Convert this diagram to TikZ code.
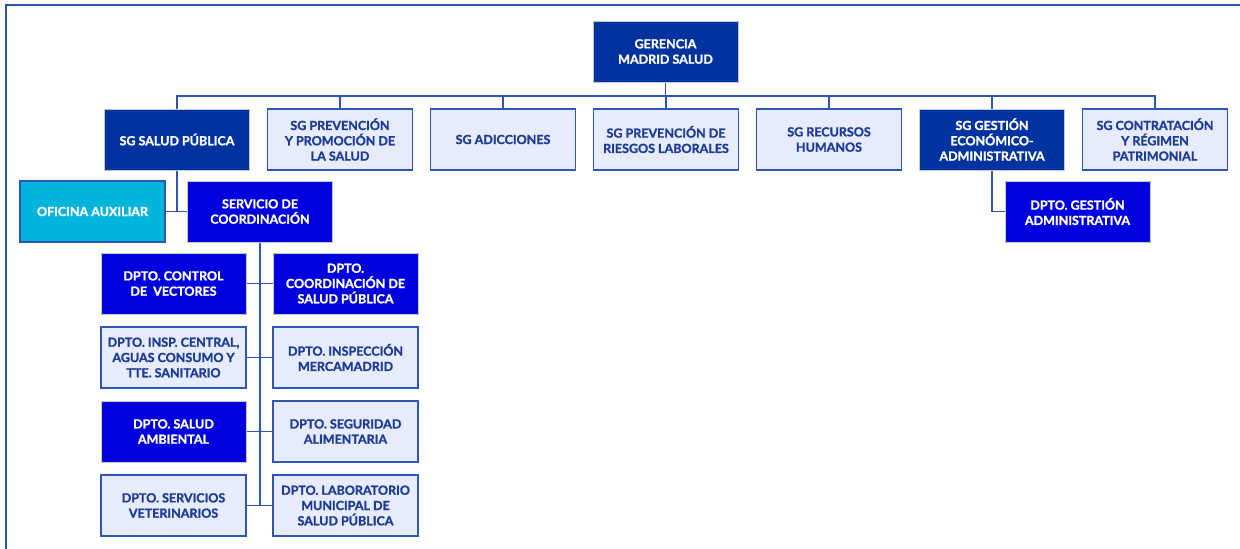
\documentclass[tikz,border=0pt]{standalone}
\usepackage{fontspec}
\setmainfont{Lato}[BoldFeatures={FakeBold=1.4}]
\definecolor{navy}{RGB}{0,51,160}
\definecolor{vivid}{RGB}{0,0,222}
\definecolor{cyanbox}{RGB}{0,180,220}
\definecolor{pale}{RGB}{230,236,251}
\definecolor{edge}{RGB}{46,85,184}
\definecolor{ink}{RGB}{31,60,153}
\usetikzlibrary{positioning}

\tikzset{
  unit/.style={minimum width=145pt, minimum height=61pt, inner sep=1pt, align=center,
    font=\fontsize{12.5}{15.3}\selectfont\bfseries},
  darkunit/.style={unit, fill=navy, draw=black!22, line width=1pt, text=white},
  vividunit/.style={unit, fill=vivid, draw=black!22, line width=1pt, text=white},
  paleunit/.style={unit, fill=pale, draw=edge, line width=1.3pt, text=ink},
  auxunit/.style={unit, fill=cyanbox, draw=edge, line width=1.3pt, text=white},
  link/.style={draw=edge, line width=1.3pt}
}

\begin{document}
\begin{tikzpicture}[x=1pt, y=-1pt]
  \useasboundingbox (0,0) rectangle (1240,549);
  \draw[edge, line width=1.2pt] (6,5) rectangle (1250,560);

  % gerencia y subdirecciones
  \node[darkunit] (ger) at (665.5,51.5) {GERENCIA\\MADRID SALUD};
  \node[darkunit]  (sp) at (177,139.5)  {SG SALUD PÚBLICA};
  \node[paleunit]  (pp) at (340,139.5)  {SG PREVENCIÓN\\Y PROMOCIÓN DE\\LA SALUD};
  \node[paleunit]  (ad) at (503,139.5)  {SG ADICCIONES};
  \node[paleunit]  (pr) at (666,139.5)  {SG PREVENCIÓN DE\\RIESGOS LABORALES};
  \node[paleunit]  (rh) at (829,139.5)  {SG RECURSOS\\HUMANOS};
  \node[darkunit]  (ge) at (992,139.5)  {SG GESTIÓN\\ECONÓMICO-\\ADMINISTRATIVA};
  \node[paleunit]  (cp) at (1155,139.5) {SG CONTRATACIÓN\\Y RÉGIMEN\\PATRIMONIAL};
  \coordinate (bus) at (0,96);

  % segundo nivel
  \node[auxunit]   (aux) at (92.5,211.5)   {OFICINA AUXILIAR};
  \node[vividunit] (sc)  at (260,211.5)    {SERVICIO DE\\COORDINACIÓN};
  \node[vividunit] (dga) at (1077.5,211.5) {DPTO. GESTIÓN\\ADMINISTRATIVA};

  % departamentos
  \node[vividunit] (dcv) at (173.5,283.5) {DPTO. CONTROL\\DE\ \ VECTORES};
  \node[vividunit] (dcs) at (345.5,283.5) {DPTO.\\COORDINACIÓN DE\\SALUD PÚBLICA};
  \node[paleunit]  (dic) at (173.5,357.5) {DPTO. INSP. CENTRAL,\\AGUAS CONSUMO Y\\TTE. SANITARIO};
  \node[paleunit]  (dim) at (345.5,357.5) {DPTO. INSPECCIÓN\\MERCAMADRID};
  \node[vividunit] (dsa) at (173.5,431.5) {DPTO. SALUD\\AMBIENTAL};
  \node[paleunit]  (dsg) at (345.5,431.5) {DPTO. SEGURIDAD\\ALIMENTARIA};
  \node[paleunit]  (dsv) at (173.5,505.5) {DPTO. SERVICIOS\\VETERINARIOS};
  \node[paleunit]  (dlb) at (345.5,505.5) {DPTO. LABORATORIO\\MUNICIPAL DE\\SALUD PÚBLICA};

  % conectores
  \draw[link] (ger.south) -- (ger.south |- bus);
  \draw[link] (sp.north) |- (bus -| cp.north) -- (cp.north);
  \foreach \n in {pp,ad,pr,rh,ge}
    \draw[link] (\n.north) -- (\n.north |- bus);
  \draw[link] (sp.south) |- (sc.west);
  \draw[link] (aux.east) -- (sc.west);
  \draw[link] (ge.south) |- (dga.west);
  \draw[link] (sc.south) -- (sc.south |- dlb.west);
  \foreach \l/\r in {dcv/dcs,dic/dim,dsa/dsg,dsv/dlb}
    \draw[link] (\l.east) -- (\r.west);
\end{tikzpicture}
\end{document}
